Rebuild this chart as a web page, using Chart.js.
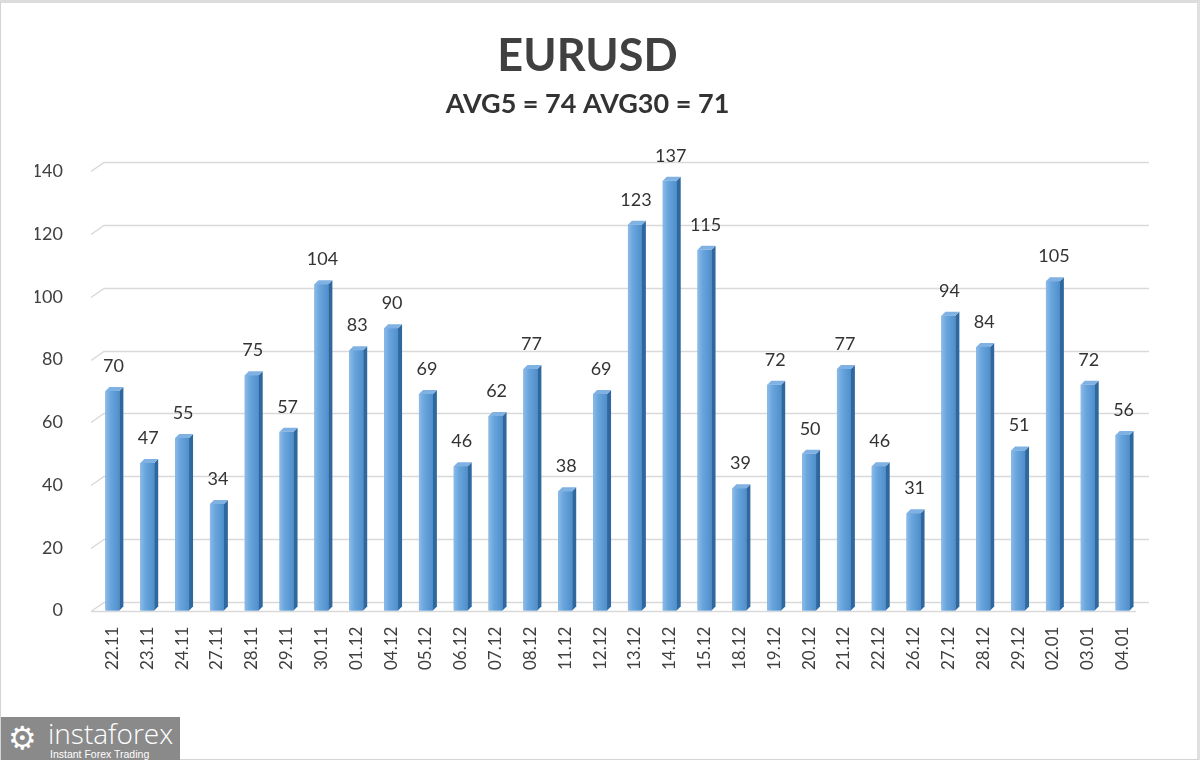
<!DOCTYPE html>
<html>
<head>
<meta charset="utf-8">
<script src="https://cdn.jsdelivr.net/npm/chart.js@4/dist/chart.umd.min.js"></script>
<style>
  html, body { margin: 0; padding: 0; background: #fff; }
  #wrap { position: relative; width: 1200px; height: 760px; box-sizing: border-box;
          border: 1px solid #d4d4d4; border-top: 3px solid #dcdcdc; border-right: 3px solid #e0e0e0; }
  #wrap canvas { position: absolute; left: 0; top: 0; }
  #logo { position: absolute; left: 0; top: 714px; width: 179px; height: 46px; background: #8a8a8a;
          color: #fff; font-family: "DejaVu Sans", sans-serif; overflow: hidden; }
  #logo .gear { position: absolute; left: 7px; top: 3px; font-size: 32px; line-height: 36px; }
  #logo .name { position: absolute; left: 47px; top: -3px; font-size: 28px; font-family: "Open Sans", sans-serif; font-weight: 300; }
  #logo .sub { position: absolute; left: 49px; top: 31px; font-size: 10.5px; font-family: "Liberation Sans", sans-serif; }
</style>
</head>
<body>
<div id="wrap">
  <canvas id="chartEurusd"></canvas>
  <div id="logo"><span class="gear">⚙</span><span class="name">instaforex</span><span class="sub">Instant Forex Trading</span></div>
</div>
<script>
// Dades del gràfic
const dates = ['22.11','23.11','24.11','27.11','28.11','29.11','30.11','01.12','04.12','05.12',
               '06.12','07.12','08.12','11.12','12.12','13.12','14.12','15.12','18.12','19.12',
               '20.12','21.12','22.12','26.12','27.12','28.12','29.12','02.01','03.01','04.01'];
const volatility = [70, 47, 55, 34, 75, 57, 104, 83, 90, 69,
                    46, 62, 77, 38, 69, 123, 137, 115, 39, 72,
                    50, 77, 46, 31, 94, 84, 51, 105, 72, 56];
const yMax = 140;
const yStep = 20;
const titleText = 'EURUSD';
const subtitleText = 'AVG5 = 74 AVG30 = 71';

const DEPTH = 4;      // profunditat 3D de les barres
const GRID_DX = 13;   // desplaçament del pla del fons
const GRID_DY = 9;

// Graella en perspectiva (pla del fons + diagonal)
const grid3d = {
    id: 'grid3d',
    beforeDatasetsDraw(chart) {
        const { ctx, chartArea } = chart;
        const y = chart.scales.y;
        const left = chartArea.left - 4;
        const right = chartArea.right - 4;
        ctx.save();
        ctx.strokeStyle = '#d9d9d9';
        ctx.lineWidth = 1.5;
        y.ticks.forEach(t => {
            const py = Math.round(y.getPixelForValue(t.value)) + 0.5;
            ctx.beginPath();
            ctx.moveTo(left, py);
            ctx.lineTo(left + GRID_DX, py - GRID_DY);
            ctx.lineTo(right + GRID_DX, py - GRID_DY);
            ctx.stroke();
            if (t.value === 0) {
                ctx.beginPath();
                ctx.moveTo(left, py);
                ctx.lineTo(right, py);
                ctx.stroke();
            }
        });
        ctx.restore();
    }
};

// Barres amb efecte 3D i etiquetes de valor
const bars3d = {
    id: 'bars3d',
    afterDatasetsDraw(chart) {
        const { ctx } = chart;
        const meta = chart.getDatasetMeta(0);
        ctx.save();
        meta.data.forEach((bar, i) => {
            const w = bar.width;
            const x0 = bar.x - w / 2, x1 = bar.x + w / 2;
            const top = bar.y, base = bar.base;
            // cara frontal
            const g = ctx.createLinearGradient(x0, 0, x1, 0);
            g.addColorStop(0, '#8cbbe8');
            g.addColorStop(0.35, '#6aa6dd');
            g.addColorStop(1, '#4f8fcc');
            ctx.fillStyle = g;
            ctx.fillRect(x0, top, w, base - top);
            // lateral
            ctx.fillStyle = '#2f689f';
            ctx.beginPath();
            ctx.moveTo(x1, top);
            ctx.lineTo(x1 + DEPTH, top - DEPTH);
            ctx.lineTo(x1 + DEPTH, base - DEPTH);
            ctx.lineTo(x1, base);
            ctx.closePath();
            ctx.fill();
            // tapa
            ctx.fillStyle = '#7fb1e2';
            ctx.beginPath();
            ctx.moveTo(x0, top);
            ctx.lineTo(x0 + DEPTH, top - DEPTH);
            ctx.lineTo(x1 + DEPTH, top - DEPTH);
            ctx.lineTo(x1, top);
            ctx.closePath();
            ctx.fill();
            // etiqueta
            ctx.fillStyle = '#333333';
            ctx.font = '18px Lato, "Open Sans", sans-serif';
            ctx.textAlign = 'center';
            ctx.textBaseline = 'middle';
            ctx.fillText(String(volatility[i]), bar.x + 1, top - 25);
        });
        ctx.restore();
    }
};

new Chart(document.getElementById('chartEurusd'), {
    type: 'bar',
    data: {
        labels: dates,
        datasets: [{
            data: volatility,
            backgroundColor: '#5b9bd5',
            barPercentage: 0.4,
            categoryPercentage: 1.0
        }]
    },
    options: {
        responsive: true,
        maintainAspectRatio: false,
        animation: false,
        layout: { padding: { top: 26, left: 34, right: 57, bottom: 81 } },
        plugins: {
            legend: { display: false },
            tooltip: { enabled: false },
            title: {
                display: true,
                text: titleText,
                color: '#404040',
                font: { family: 'Lato, "Open Sans", sans-serif', size: 45, weight: 'bold' },
                padding: { top: 0, bottom: 5 }
            },
            subtitle: {
                display: true,
                text: subtitleText,
                color: '#333333',
                font: { family: 'Lato, "Open Sans", sans-serif', size: 27, weight: 'bold' },
                padding: { top: 0, bottom: 51 }
            }
        },
        scales: {
            x: {
                grid: { display: false },
                border: { display: false },
                ticks: {
                    color: '#404040',
                    font: { family: 'Lato, "Open Sans", sans-serif', size: 17 },
                    minRotation: 90,
                    maxRotation: 90,
                    padding: 8,
                    autoSkip: false
                }
            },
            y: {
                min: 0,
                max: yMax,
                grid: { display: false },
                border: { display: false },
                afterFit(scale) { scale.width = 60; },
                ticks: {
                    stepSize: yStep,
                    color: '#404040',
                    font: { family: 'Lato, "Open Sans", sans-serif', size: 18 },
                    padding: 24
                }
            }
        }
    },
    plugins: [grid3d, bars3d]
});
</script>
</body>
</html>
